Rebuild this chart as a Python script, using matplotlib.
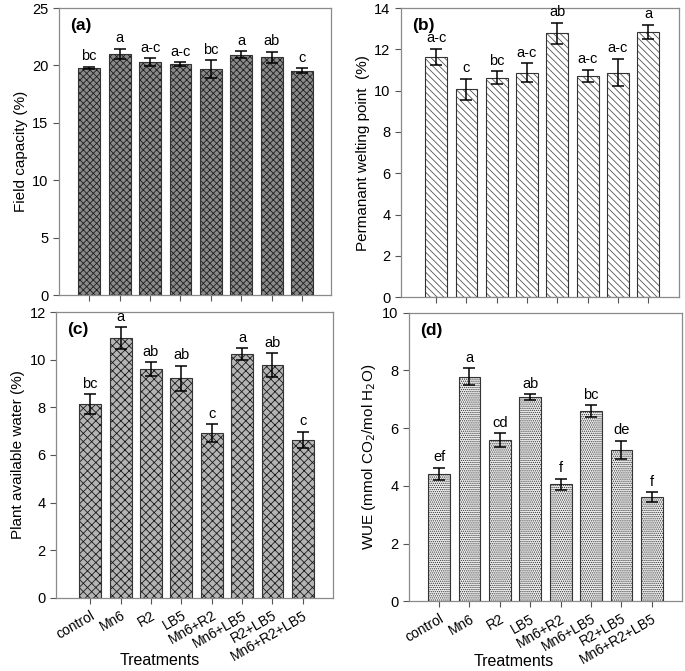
import numpy as np
import matplotlib
matplotlib.use("Agg")
import matplotlib.pyplot as plt

plt.rcParams['font.family'] = ['Liberation Sans', 'DejaVu Sans']
plt.rcParams['hatch.linewidth'] = 0.6

treatments = ['control', 'Mn6', 'R2', 'LB5', 'Mn6+R2', 'Mn6+LB5', 'R2+LB5', 'Mn6+R2+LB5']

fc_mean = [19.8, 21.0, 20.3, 20.1, 19.7, 20.95, 20.7, 19.55]
fc_err = [0.1, 0.45, 0.35, 0.18, 0.75, 0.3, 0.5, 0.23]
fc_let = ['bc', 'a', 'a-c', 'a-c', 'bc', 'a', 'ab', 'c']

pwp_mean = [11.63, 10.06, 10.63, 10.88, 12.78, 10.72, 10.88, 12.86]
pwp_err = [0.41, 0.52, 0.31, 0.45, 0.52, 0.29, 0.66, 0.34]
pwp_let = ['a-c', 'c', 'bc', 'a-c', 'ab', 'a-c', 'a-c', 'a']

paw_mean = [8.14, 10.91, 9.6, 9.22, 6.91, 10.23, 9.78, 6.63]
paw_err = [0.41, 0.45, 0.29, 0.53, 0.38, 0.25, 0.49, 0.34]
paw_let = ['bc', 'a', 'ab', 'ab', 'c', 'a', 'ab', 'c']

wue_mean = [4.41, 7.78, 5.59, 7.07, 4.06, 6.6, 5.25, 3.6]
wue_err = [0.22, 0.3, 0.23, 0.1, 0.19, 0.2, 0.31, 0.17]
wue_let = ['ef', 'a', 'cd', 'ab', 'f', 'bc', 'de', 'f']

fig = plt.figure(figsize=(6.85, 6.71), dpi=100)

panels = [
    # rect, means, errs, letters, ylim, yticks, ylabel, tag, xlim, face, hatch, hatch colour
    ([0.086, 0.560, 0.397, 0.428], fc_mean, fc_err, fc_let, 25, np.arange(0, 26, 5),
     'Field capacity (%)', '(a)', (-1.0, 7.95), '#8a8a8a', 'xxxxx', '#1e1e1e'),
    ([0.585, 0.557, 0.406, 0.431], pwp_mean, pwp_err, pwp_let, 14, np.arange(0, 15, 2),
     'Permanant welting point  (%)', '(b)', (-1.17, 8.01), 'white', '\\\\\\\\\\', '#555555'),
    ([0.082, 0.109, 0.404, 0.426], paw_mean, paw_err, paw_let, 12, np.arange(0, 13, 2),
     'Plant available water (%)', '(c)', (-1.12, 7.99), '#b4b4b4', 'xxxx', '#1a1a1a'),
    ([0.597, 0.104, 0.399, 0.430], wue_mean, wue_err, wue_let, 10, np.arange(0, 11, 2),
     'WUE (mmol CO$_2$/mol H$_2$O)', '(d)', (-0.99, 8.0), '#eeeeee', '........', '#333333'),
]
xlab_pos = [None, None, (0.375, -0.192), (0.385, -0.184)]

x = np.arange(len(treatments))
for i, (rect, m, e, let, ymax, yt, ylab, tag, xl, face, hatch, hc) in enumerate(panels):
    ax = fig.add_axes(rect)
    ax.bar(x, m, width=0.72, color=face, hatch=hatch, edgecolor=hc, linewidth=0, zorder=2)
    ax.bar(x, m, width=0.72, fill=False, edgecolor='#333333', linewidth=0.8, zorder=3)
    ax.errorbar(x, m, yerr=e, fmt='none', ecolor='black', elinewidth=1.1,
                capsize=4.5, capthick=1.1, zorder=4)
    for xi, mi, ei, li in zip(x, m, e, let):
        ax.text(xi, mi + ei + ymax * 0.012, li, ha='center', va='bottom', fontsize=10.5)
    ax.set_ylim(0, ymax)
    ax.set_xlim(*xl)
    ax.set_yticks(yt)
    ax.set_xticks(x)
    ax.tick_params(axis='both', direction='out', length=4, width=0.8,
                   colors='#555555', labelcolor='black', labelsize=10.5)
    for s in ax.spines.values():
        s.set_color('#8a8a8a')
        s.set_linewidth(0.9)
    ax.set_ylabel(ylab, fontsize=11, labelpad=3)
    ax.text(0.04, 0.965, tag, transform=ax.transAxes, ha='left', va='top',
            fontsize=12.5, fontweight='bold')
    if i >= 2:
        ax.set_xticklabels(treatments, rotation=30, ha='right', va='top',
                           rotation_mode='anchor', fontsize=10)
        ax.set_xlabel('Treatments', fontsize=11.5)
        ax.xaxis.set_label_coords(*xlab_pos[i])
    else:
        ax.set_xticklabels([])

fig.savefig('out.png', dpi=100)
